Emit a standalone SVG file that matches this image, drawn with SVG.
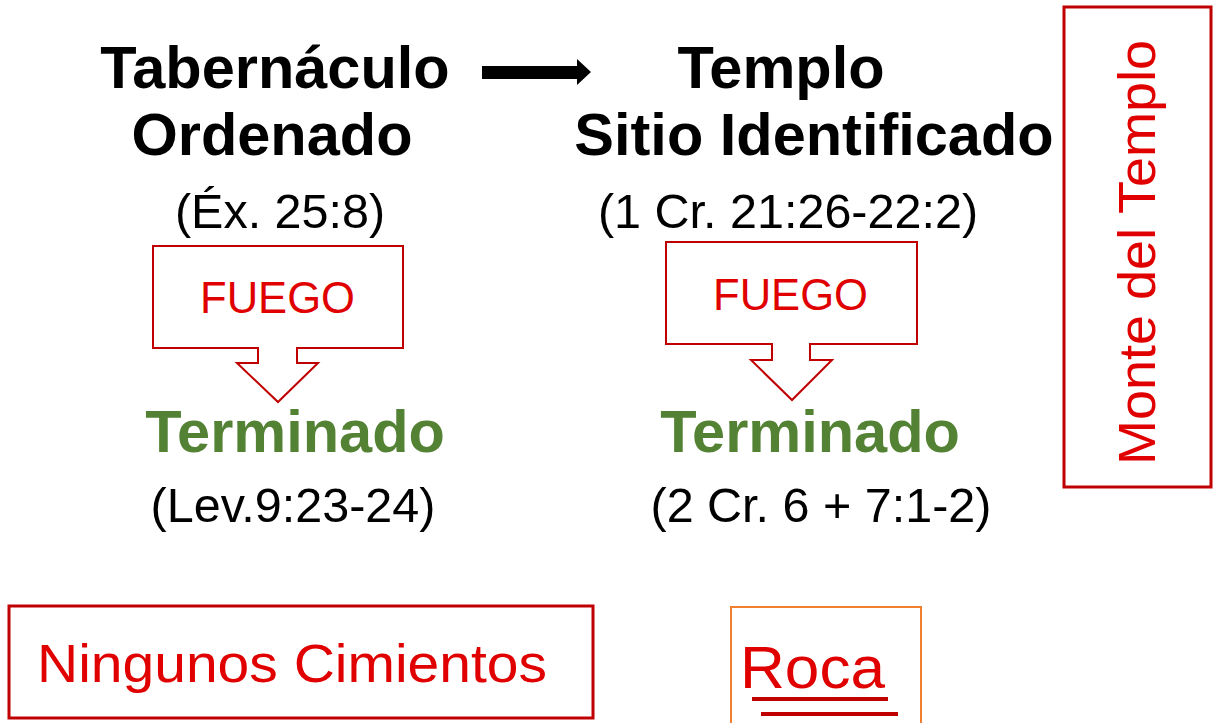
<svg xmlns="http://www.w3.org/2000/svg" width="1218" height="723" viewBox="0 0 1218 723">
<style>
.h{font-family:"Liberation Sans",Arial,sans-serif;font-weight:bold;font-size:59.5px;fill:#000;text-anchor:middle}
.g{font-family:"Liberation Sans",Arial,sans-serif;font-weight:bold;font-size:59.5px;fill:#548235;text-anchor:middle}
.r{font-family:"Liberation Sans",Arial,sans-serif;font-size:48.5px;fill:#000;text-anchor:middle}
.hw{font-family:"Liberation Sans",Arial,sans-serif;fill:#E00000}
.call{fill:#fff;stroke:#C00000;stroke-width:2}
.box{fill:none;stroke:#C00000;stroke-width:3}
</style>
<rect width="1218" height="723" fill="#fff"/>
<g id="connectors">
<polygon points="482,66 577,66 577,59 591,72 577,85 577,79 482,79" fill="#000"/>
</g>
<g id="tabernaculo">
<text class="h" x="275" y="88">Tabernáculo</text>
<text class="h" x="272" y="155">Ordenado</text>
<text class="r" x="280" y="228">(Éx. 25:8)</text>
</g>
<g id="templo">
<text class="h" x="781" y="88">Templo</text>
<text class="h" x="814" y="155">Sitio Identificado</text>
<text class="r" x="788" y="228">(1 Cr. 21:26-22:2)</text>
</g>
<g id="fuego1">
<polygon class="call" points="153,246 403,246 403,348 297,348 297,363 318,363 278,402 237,363 258,363 258,348 153,348"/>
<text class="hw" x="200" y="313" font-size="44" textLength="155" lengthAdjust="spacingAndGlyphs">FUEGO</text>
</g>
<g id="fuego2">
<polygon class="call" points="666,242 917,242 917,344 810,344 810,360 832,360 792,400 751,360 772,360 772,344 666,344"/>
<text class="hw" x="713" y="310" font-size="44" textLength="155" lengthAdjust="spacingAndGlyphs">FUEGO</text>
</g>
<g id="terminado1">
<text class="g" x="295" y="452">Terminado</text>
<text class="r" x="293" y="522">(Lev.9:23-24)</text>
</g>
<g id="terminado2">
<text class="g" x="810" y="452">Terminado</text>
<text class="r" x="821" y="522">(2 Cr. 6 + 7:1-2)</text>
</g>
<g id="monte">
<rect class="box" x="1064" y="7" width="147" height="480"/>
<text class="hw" font-size="52" transform="translate(1155,465) rotate(-90)" textLength="425" lengthAdjust="spacingAndGlyphs">Monte del Templo</text>
</g>
<g id="ninguno">
<rect class="box" x="9" y="606" width="584" height="112"/>
<text class="hw" x="37" y="682" font-size="54" textLength="510" lengthAdjust="spacingAndGlyphs">Ningunos Cimientos</text>
</g>
<g id="roca">
<polyline points="731,723 731,607 921,607 921,723" fill="none" stroke="#F08030" stroke-width="2"/>
<text class="hw" x="740" y="688" font-size="60" textLength="145" lengthAdjust="spacingAndGlyphs">Roca</text>
<line x1="752" y1="699" x2="888" y2="699" stroke="#C00000" stroke-width="4"/>
<line x1="761" y1="714" x2="898" y2="714" stroke="#C00000" stroke-width="4"/>
</g>
</svg>
